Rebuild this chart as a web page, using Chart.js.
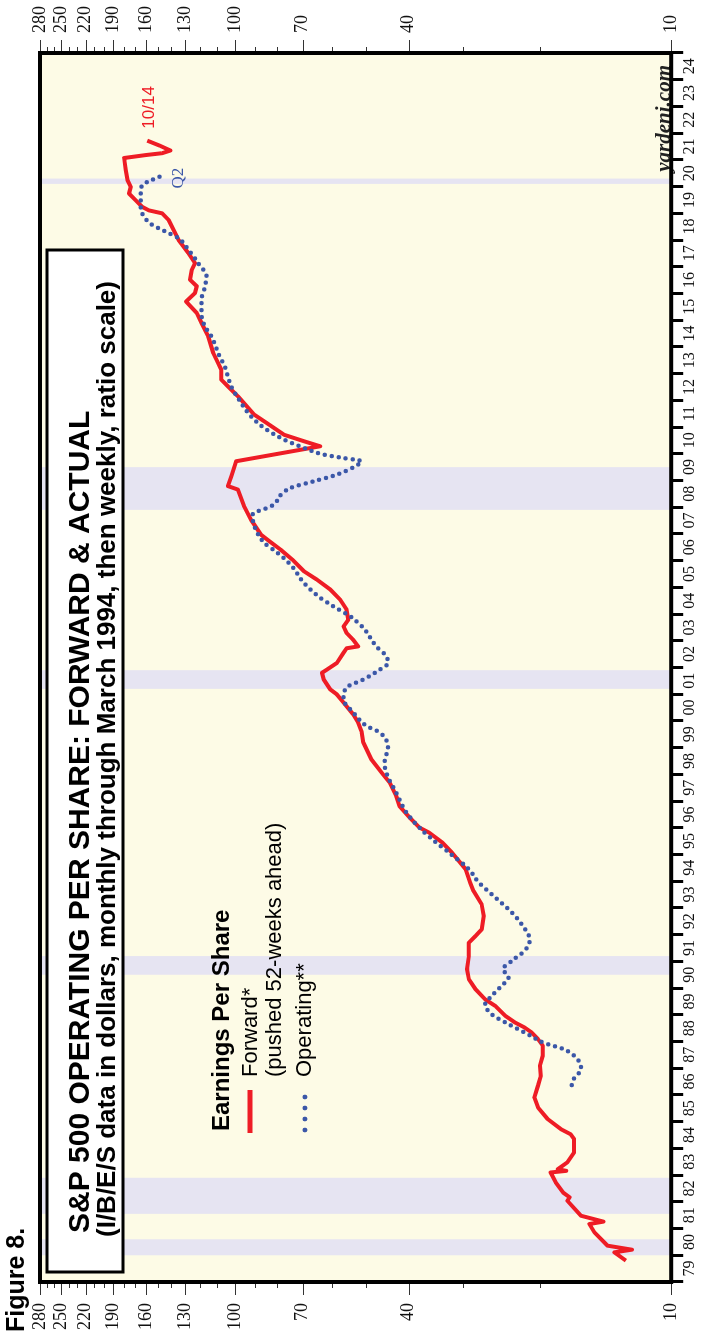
<!DOCTYPE html>
<html>
<head>
<meta charset="utf-8">
<title>S&amp;P 500 Operating EPS: Forward &amp; Actual</title>
<script src="https://cdn.jsdelivr.net/npm/chart.js@4.4.1/dist/chart.umd.min.js"></script>
<style>
  html, body { margin: 0; padding: 0; background: #fff; }
  body { width: 703px; height: 1337px; overflow: hidden; position: relative; }
  /* the chart is drawn landscape and turned a quarter turn to the left */
  #wrap {
    position: absolute; left: 0; top: 0;
    width: 1337px; height: 703px;
    transform-origin: 0 0;
    transform: translateY(1337px) rotate(-90deg);
  }
</style>
</head>
<body>
<div id="wrap"><canvas id="epsChart" width="1337" height="703"></canvas></div>
<script>
// Forward earnings (pushed 52 weeks ahead)
const fwdYears = [1979.80, 1980.11, 1980.21, 1980.36, 1980.86, 1981.17, 1981.26, 1981.48, 1982.04, 1982.17,
  1982.35, 1982.73, 1983.10, 1983.16, 1983.22, 1983.48, 1983.85, 1984.35, 1984.53, 1984.72,
  1985.10, 1985.53, 1985.91, 1986.35, 1986.72, 1987.09, 1987.47, 1987.85, 1988.09, 1988.34,
  1988.53, 1988.71, 1988.96, 1989.33, 1989.58, 1989.96, 1990.33, 1990.71, 1991.20, 1991.70,
  1991.95, 1992.20, 1992.70, 1993.14, 1993.64, 1993.95, 1994.45, 1995.07, 1995.45, 1995.82,
  1996.01, 1996.39, 1996.82, 1997.19, 1997.69, 1998.00, 1998.56, 1999.19, 1999.62, 1999.94,
  2000.25, 2000.69, 2000.99, 2001.18, 2001.55, 2001.80, 2001.92, 2002.17, 2002.55, 2002.72,
  2002.79, 2003.04, 2003.29, 2003.54, 2003.79, 2004.17, 2004.54, 2004.92, 2005.29, 2005.60,
  2006.04, 2006.41, 2006.73, 2006.97, 2007.53, 2008.06, 2008.66, 2008.79, 2009.16, 2009.54,
  2009.72, 2010.28, 2010.47, 2010.71, 2011.21, 2011.46, 2012.15, 2012.52, 2012.77, 2013.14,
  2013.52, 2013.77, 2014.39, 2014.89, 2015.27, 2015.70, 2016.02, 2016.27, 2016.51, 2016.88,
  2017.13, 2017.51, 2018.01, 2018.75, 2019.00, 2019.11, 2019.24, 2019.49, 2019.74, 2019.99,
  2020.25, 2020.62, 2021.07, 2021.18, 2021.25, 2021.35, 2021.52, 2021.72];
const fwdValues = [12.7, 13.5, 12.3, 14.0, 15.0, 15.4, 14.3, 16.1, 17.3, 17.1,
  17.7, 18.4, 18.9, 17.4, 18.2, 17.3, 16.7, 16.7, 17.0, 17.9,
  19.2, 20.2, 20.6, 20.2, 19.9, 20.0, 19.7, 19.7, 20.2, 20.9,
  21.7, 22.8, 24.0, 25.3, 26.7, 28.1, 29.1, 29.4, 29.1, 29.1,
  28.1, 27.2, 26.9, 27.2, 28.4, 28.9, 29.6, 31.8, 33.5, 35.9,
  37.8, 39.8, 42.0, 42.7, 44.2, 45.8, 48.7, 50.8, 51.3, 52.2,
  53.6, 56.4, 58.4, 60.5, 62.6, 63.2, 61.6, 58.4, 56.4, 55.5,
  52.2, 53.6, 55.5, 56.4, 55.0, 55.5, 57.4, 60.5, 64.9, 69.5,
  73.9, 78.6, 83.5, 87.2, 91.9, 95.5, 98.5, 103.8, 102.0, 100.2,
  99.4, 63.8, 69.5, 77.2, 85.7, 90.3, 98.5, 103.8, 107.5, 107.5,
  110.3, 112.2, 115.2, 119.3, 122.4, 129.5, 123.5, 122.4, 126.8, 125.7,
  123.5, 127.9, 134.8, 142.0, 147.0, 157.6, 163.2, 169.0, 175.0, 173.4,
  176.5, 178.0, 179.6, 160.3, 147.0, 140.7, 148.2, 159.0];

// Operating earnings (actual, four-quarter trailing)
const opYears = [1986.37, 1986.59, 1986.97, 1987.34, 1987.71, 1987.94, 1988.27, 1988.65, 1989.02, 1989.40,
  1989.65, 1990.08, 1990.40, 1990.71, 1991.02, 1991.39, 1991.83, 1992.33, 1992.70, 1992.95,
  1993.39, 1993.95, 1994.45, 1995.07, 1995.57, 1996.01, 1996.58, 1997.31, 1998.06, 1998.45,
  1999.01, 1999.57, 1999.82, 2000.32, 2000.82, 2001.25, 2001.55, 2001.92, 2002.17, 2002.42,
  2002.79, 2003.48, 2003.92, 2004.29, 2004.61, 2005.17, 2005.85, 2006.29, 2006.67, 2007.29,
  2007.73, 2008.03, 2008.72, 2008.97, 2009.22, 2009.53, 2009.72, 2009.84, 2009.97, 2010.22,
  2010.53, 2010.96, 2011.40, 2011.90, 2012.52, 2013.27, 2013.77, 2014.39, 2014.77, 2015.14,
  2015.76, 2016.26, 2016.63, 2017.13, 2017.63, 2018.07, 2018.32, 2018.57, 2018.88, 2019.38,
  2019.75, 2020.06, 2020.25, 2020.47];
const opValues = [16.9, 16.75, 16.1, 16.4, 17.6, 19.5, 21.3, 23.6, 25.8, 26.7,
  26.0, 24.5, 23.6, 24.3, 23.2, 21.7, 21.1, 21.9, 22.8, 23.6,
  25.3, 27.6, 29.1, 32.3, 35.3, 37.8, 40.5, 42.7, 45.0, 45.4,
  44.6, 46.6, 50.0, 53.6, 56.4, 55.5, 50.8, 46.6, 44.6, 45.0,
  47.4, 50.8, 54.5, 59.5, 63.8, 69.5, 74.6, 79.9, 85.7, 90.3,
  91.1, 82.8, 74.6, 66.0, 58.4, 53.1, 51.3, 56.4, 62.6, 69.5,
  77.2, 85.7, 91.9, 96.8, 102.0, 105.6, 109.3, 113.2, 117.2, 119.3,
  119.3, 117.2, 116.2, 121.4, 127.9, 134.8, 144.4, 154.9, 161.8, 164.6,
  164.6, 163.2, 154.9, 144.0];

// Recessions (shaded)
const recStart = [1980.0, 1981.55, 1990.5, 2001.2, 2007.9, 2020.1];
const recEnd = [1980.6, 1982.9, 1991.2, 2001.9, 2009.5, 2020.3];

// Axis ticks
const yearTicks = [];
for (let yr = 1979; yr <= 2025; yr++) yearTicks.push(yr);
const yearLabels = ["79", "80", "81", "82", "83", "84", "85", "86", "87", "88", "89", "90", "91", "92",
  "93", "94", "95", "96", "97", "98", "99", "00", "01", "02", "03", "04", "05", "06", "07", "08",
  "09", "10", "11", "12", "13", "14", "15", "16", "17", "18", "19", "20", "21", "22", "23", "24"];
const epsTicks = [10, 20, 30, 40, 50, 60, 70, 80, 90, 100, 110, 120, 130, 140, 150, 160, 170, 180,
  190, 200, 210, 220, 230, 240, 250, 260, 270, 280];
const epsLabels = [10, 40, 70, 100, 130, 160, 190, 220, 250, 280];

const RED = "#ee1c25";
const BLUE = "#3b57a8";

// background, recession bands, boxes and texts
const decorPlugin = {
  id: "decor",
  beforeDatasetsDraw(chart) {
    const { ctx, chartArea: a, scales } = chart;
    ctx.save();
    ctx.fillStyle = "#fdfbe6";
    ctx.fillRect(a.left, a.top, a.width, a.height);
    ctx.fillStyle = "#e6e4f2";
    recStart.forEach((s, i) => {
      const x0 = scales.x.getPixelForValue(s);
      const x1 = scales.x.getPixelForValue(recEnd[i]);
      ctx.fillRect(x0, a.top, x1 - x0, a.height);
    });
    ctx.restore();
  },
  afterDatasetsDraw(chart) {
    const { ctx, scales } = chart;
    ctx.save();

    // title box
    ctx.fillStyle = "#fff";
    ctx.fillRect(65, 47, 1022, 76);
    ctx.strokeStyle = "#000";
    ctx.lineWidth = 3;
    ctx.strokeRect(65, 47, 1022, 76);
    ctx.fillStyle = "#000";
    ctx.textAlign = "left";
    ctx.font = 'bold 30px "Liberation Sans", Arial, sans-serif';
    ctx.fillText("S&P 500 OPERATING PER SHARE: FORWARD & ACTUAL", 104, 89);
    ctx.font = 'bold 26px "Liberation Sans", Arial, sans-serif';
    ctx.fillText("(I/B/E/S data in dollars, monthly through March 1994, then weekly, ratio scale)", 100, 115);

    // legend
    ctx.font = 'bold 24px "Liberation Sans", Arial, sans-serif';
    ctx.fillText("Earnings Per Share", 206, 229);
    ctx.font = '22px "Liberation Sans", Arial, sans-serif';
    ctx.fillText("Forward*", 260, 257);
    ctx.fillText("(pushed 52-weeks ahead)", 260, 281);
    ctx.fillText("Operating**", 260, 311);
    ctx.strokeStyle = RED;
    ctx.lineWidth = 5;
    ctx.beginPath();
    ctx.moveTo(204, 250);
    ctx.lineTo(247, 250);
    ctx.stroke();
    ctx.fillStyle = BLUE;
    [207, 218, 229, 240].forEach((px) => {
      ctx.beginPath();
      ctx.arc(px, 305, 2.4, 0, Math.PI * 2);
      ctx.fill();
    });

    // end labels
    const fx = scales.x.getPixelForValue(fwdYears[fwdYears.length - 1]);
    const fy = scales.y.getPixelForValue(fwdValues[fwdValues.length - 1]);
    ctx.fillStyle = RED;
    ctx.font = '17px "Liberation Sans", Arial, sans-serif';
    ctx.fillText("10/14", fx + 12, fy + 7);
    const ox = scales.x.getPixelForValue(opYears[opYears.length - 1]);
    const oy = scales.y.getPixelForValue(opValues[opValues.length - 1]);
    ctx.fillStyle = BLUE;
    ctx.textAlign = "center";
    ctx.font = '17px "Liberation Serif", "Times New Roman", serif';
    ctx.fillText("Q2", ox - 4, oy + 17);

    // source
    ctx.fillStyle = "#222";
    ctx.textAlign = "right";
    ctx.font = 'italic bold 21px "Liberation Serif", "Times New Roman", serif';
    ctx.fillText("yardeni.com", 1272, 670);

    // figure number
    ctx.fillStyle = "#000";
    ctx.textAlign = "left";
    ctx.font = 'bold 25px "Liberation Sans", Arial, sans-serif';
    ctx.fillText("Figure 8.", 5, 24);
    ctx.restore();
  },
  afterDraw(chart) {
    const { ctx, chartArea: a } = chart;
    ctx.save();
    // ratio-scale tick marks on both sides
    ctx.strokeStyle = "#333";
    ctx.lineWidth = 1;
    ["y", "y2"].forEach((id) => {
      const s = chart.scales[id];
      s.ticks.forEach((t) => {
        const py = Math.round(s.getPixelForValue(t.value)) + 0.5;
        const len = epsLabels.includes(t.value) ? 13 : 6;
        ctx.beginPath();
        if (id === "y") {
          ctx.moveTo(a.left, py);
          ctx.lineTo(a.left - len, py);
        } else {
          ctx.moveTo(a.right, py);
          ctx.lineTo(a.right + len, py);
        }
        ctx.stroke();
      });
    });
    // heavy frame
    ctx.strokeStyle = "#000";
    ctx.lineWidth = 4;
    ctx.strokeRect(a.left, a.top, a.width, a.height);
    ctx.restore();
  },
};

function epsAxis(position, width, pad) {
  return {
    type: "logarithmic",
    position: position,
    display: true,
    min: 10,
    max: 280,
    afterBuildTicks: (scale) => {
      scale.ticks = epsTicks.map((v) => ({ value: v }));
    },
    afterFit: (scale) => {
      scale.width = width;
    },
    grid: { display: false, drawTicks: false },
    border: { display: false },
    ticks: {
      autoSkip: false,
      padding: pad,
      color: "#111",
      font: { family: '"Liberation Serif", "Times New Roman", serif', size: 18 },
      callback: (value) => (epsLabels.includes(value) ? String(value) : ""),
    },
  };
}

const chart = new Chart(document.getElementById("epsChart"), {
  type: "line",
  data: {
    datasets: [
      {
        label: "Operating**",
        data: opYears.map((yr, i) => ({ x: yr, y: opValues[i] })),
        borderColor: BLUE,
        borderWidth: 4.5,
        borderDash: [0, 7],
        borderCapStyle: "round",
        cubicInterpolationMode: "monotone",
        pointRadius: 0,
        fill: false,
        order: 0,
      },
      {
        label: "Forward*",
        data: fwdYears.map((yr, i) => ({ x: yr, y: fwdValues[i] })),
        borderColor: RED,
        borderWidth: 4,
        borderJoinStyle: "round",
        tension: 0,
        pointRadius: 0,
        fill: false,
        order: 1,
      },
    ],
  },
  options: {
    responsive: false,
    animation: false,
    devicePixelRatio: 1,
    layout: { padding: { top: 40, left: 0, right: 0, bottom: 0 } },
    plugins: { legend: { display: false }, tooltip: { enabled: false } },
    scales: {
      x: {
        type: "linear",
        position: "bottom",
        min: 1979,
        max: 2025,
        afterBuildTicks: (scale) => {
          scale.ticks = yearTicks.map((v) => ({ value: v }));
        },
        afterFit: (scale) => {
          scale.height = 25;
        },
        grid: { drawOnChartArea: false, drawTicks: true, tickLength: 12, tickWidth: 3, tickColor: "#000" },
        border: { display: false },
        ticks: {
          autoSkip: false,
          maxRotation: 0,
          minRotation: 0,
          labelOffset: 13.4,
          padding: -3,
          color: "#111",
          font: { family: '"Liberation Serif", "Times New Roman", serif', size: 16 },
          callback: (value, index) => yearLabels[index] || "",
        },
      },
      y: epsAxis("left", 55, 21),
      y2: epsAxis("right", 53, 20),
    },
  },
  plugins: [decorPlugin],
});
</script>
</body>
</html>
